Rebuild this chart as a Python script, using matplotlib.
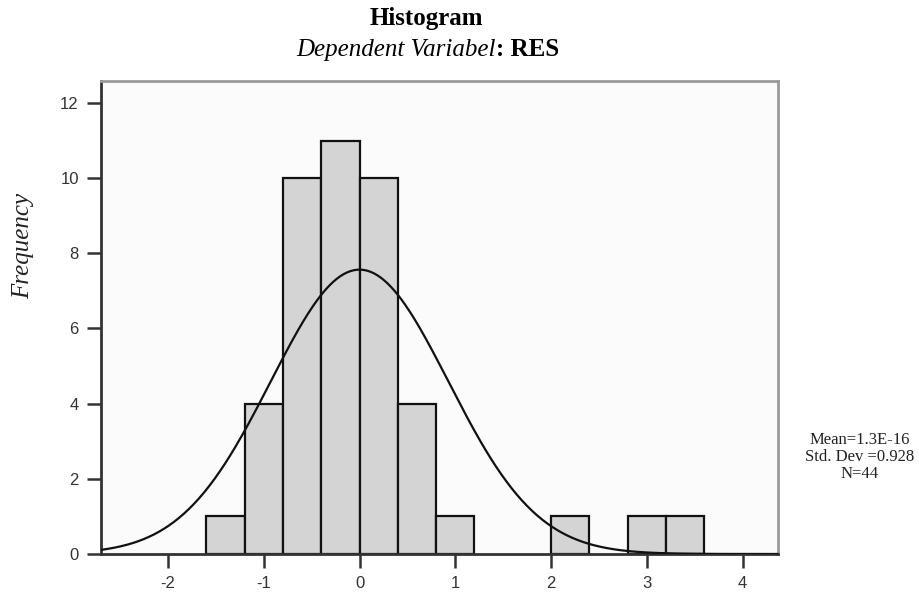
import numpy as np
import matplotlib
matplotlib.use("Agg")
import matplotlib.pyplot as plt

# Data
bin_left = [-1.6, -1.2, -0.8, -0.4, 0.0, 0.4, 0.8, 2.0, 2.8, 3.2]
counts = [1, 4, 10, 11, 10, 4, 1, 1, 1, 1]
bin_width = 0.4
mean_val = 1.3e-16
std_val = 0.928
n_obs = 44
xticks = [-2, -1, 0, 1, 2, 3, 4]
yticks = [0, 2, 4, 6, 8, 10, 12]

W, H = 919, 597
fig = plt.figure(figsize=(W / 100, H / 100), dpi=100)
fig.patch.set_facecolor("white")
left, right, top, bottom = 101, 778, 81, 554
ax = fig.add_axes([left / W, 1 - bottom / H, (right - left) / W, (bottom - top) / H])
ax.set_facecolor("#fbfbfb")

ax.bar(bin_left, counts, width=bin_width, align="edge", color="#d4d4d4",
       edgecolor="#111111", linewidth=1.6, zorder=2)

xs = np.linspace(-2.7, 4.37, 400)
ys = n_obs * bin_width / (std_val * np.sqrt(2 * np.pi)) * np.exp(-0.5 * ((xs - mean_val) / std_val) ** 2)
ax.plot(xs, ys, color="#111111", linewidth=1.6, zorder=3)

ax.set_xlim(-2.7, 4.37)
ax.set_ylim(0, 12.585)
ax.set_xticks(xticks)
ax.set_yticks(yticks)
ax.set_xticklabels([str(v) for v in xticks])
ax.set_yticklabels([str(v) for v in yticks])
for lab in ax.get_xticklabels() + ax.get_yticklabels():
    lab.set_fontfamily("Liberation Sans")
    lab.set_fontsize(12)
    lab.set_color("#333333")
ax.tick_params(axis="both", direction="out", length=10, width=1.8, color="#333333", pad=6)

for s in ["left", "bottom"]:
    ax.spines[s].set_color("#333333")
    ax.spines[s].set_linewidth(2)
for s in ["top", "right"]:
    ax.spines[s].set_color("#9a9a9a")
    ax.spines[s].set_linewidth(2)

fig.text(23 / W, 1 - 246 / H, "Frequency", rotation=90, ha="center", va="center",
         fontfamily="Liberation Serif", fontstyle="italic", fontsize=18, color="#222222")

# Title
fig.text(426 / W, 1 - 19 / H, "Histogram", ha="center", va="center",
         fontfamily="Liberation Serif", fontweight="bold", fontsize=18)
t1 = fig.text(296 / W, 1 - 56 / H, "Dependent Variabel", ha="left", va="baseline",
              fontfamily="Liberation Serif", fontstyle="italic", fontsize=18)
ax.annotate(": RES", xy=(1, 0), xycoords=t1, va="bottom", ha="left",
            fontfamily="Liberation Serif", fontweight="bold", fontsize=18,
            annotation_clip=False)

fig.text(860 / W, 1 - 457 / H, "Mean=1.3E-16\nStd. Dev =0.928\nN=44",
         ha="center", va="center", fontfamily="Liberation Serif", fontsize=12,
         linespacing=1.1, color="#222222")

fig.savefig("out.png", dpi=100)
